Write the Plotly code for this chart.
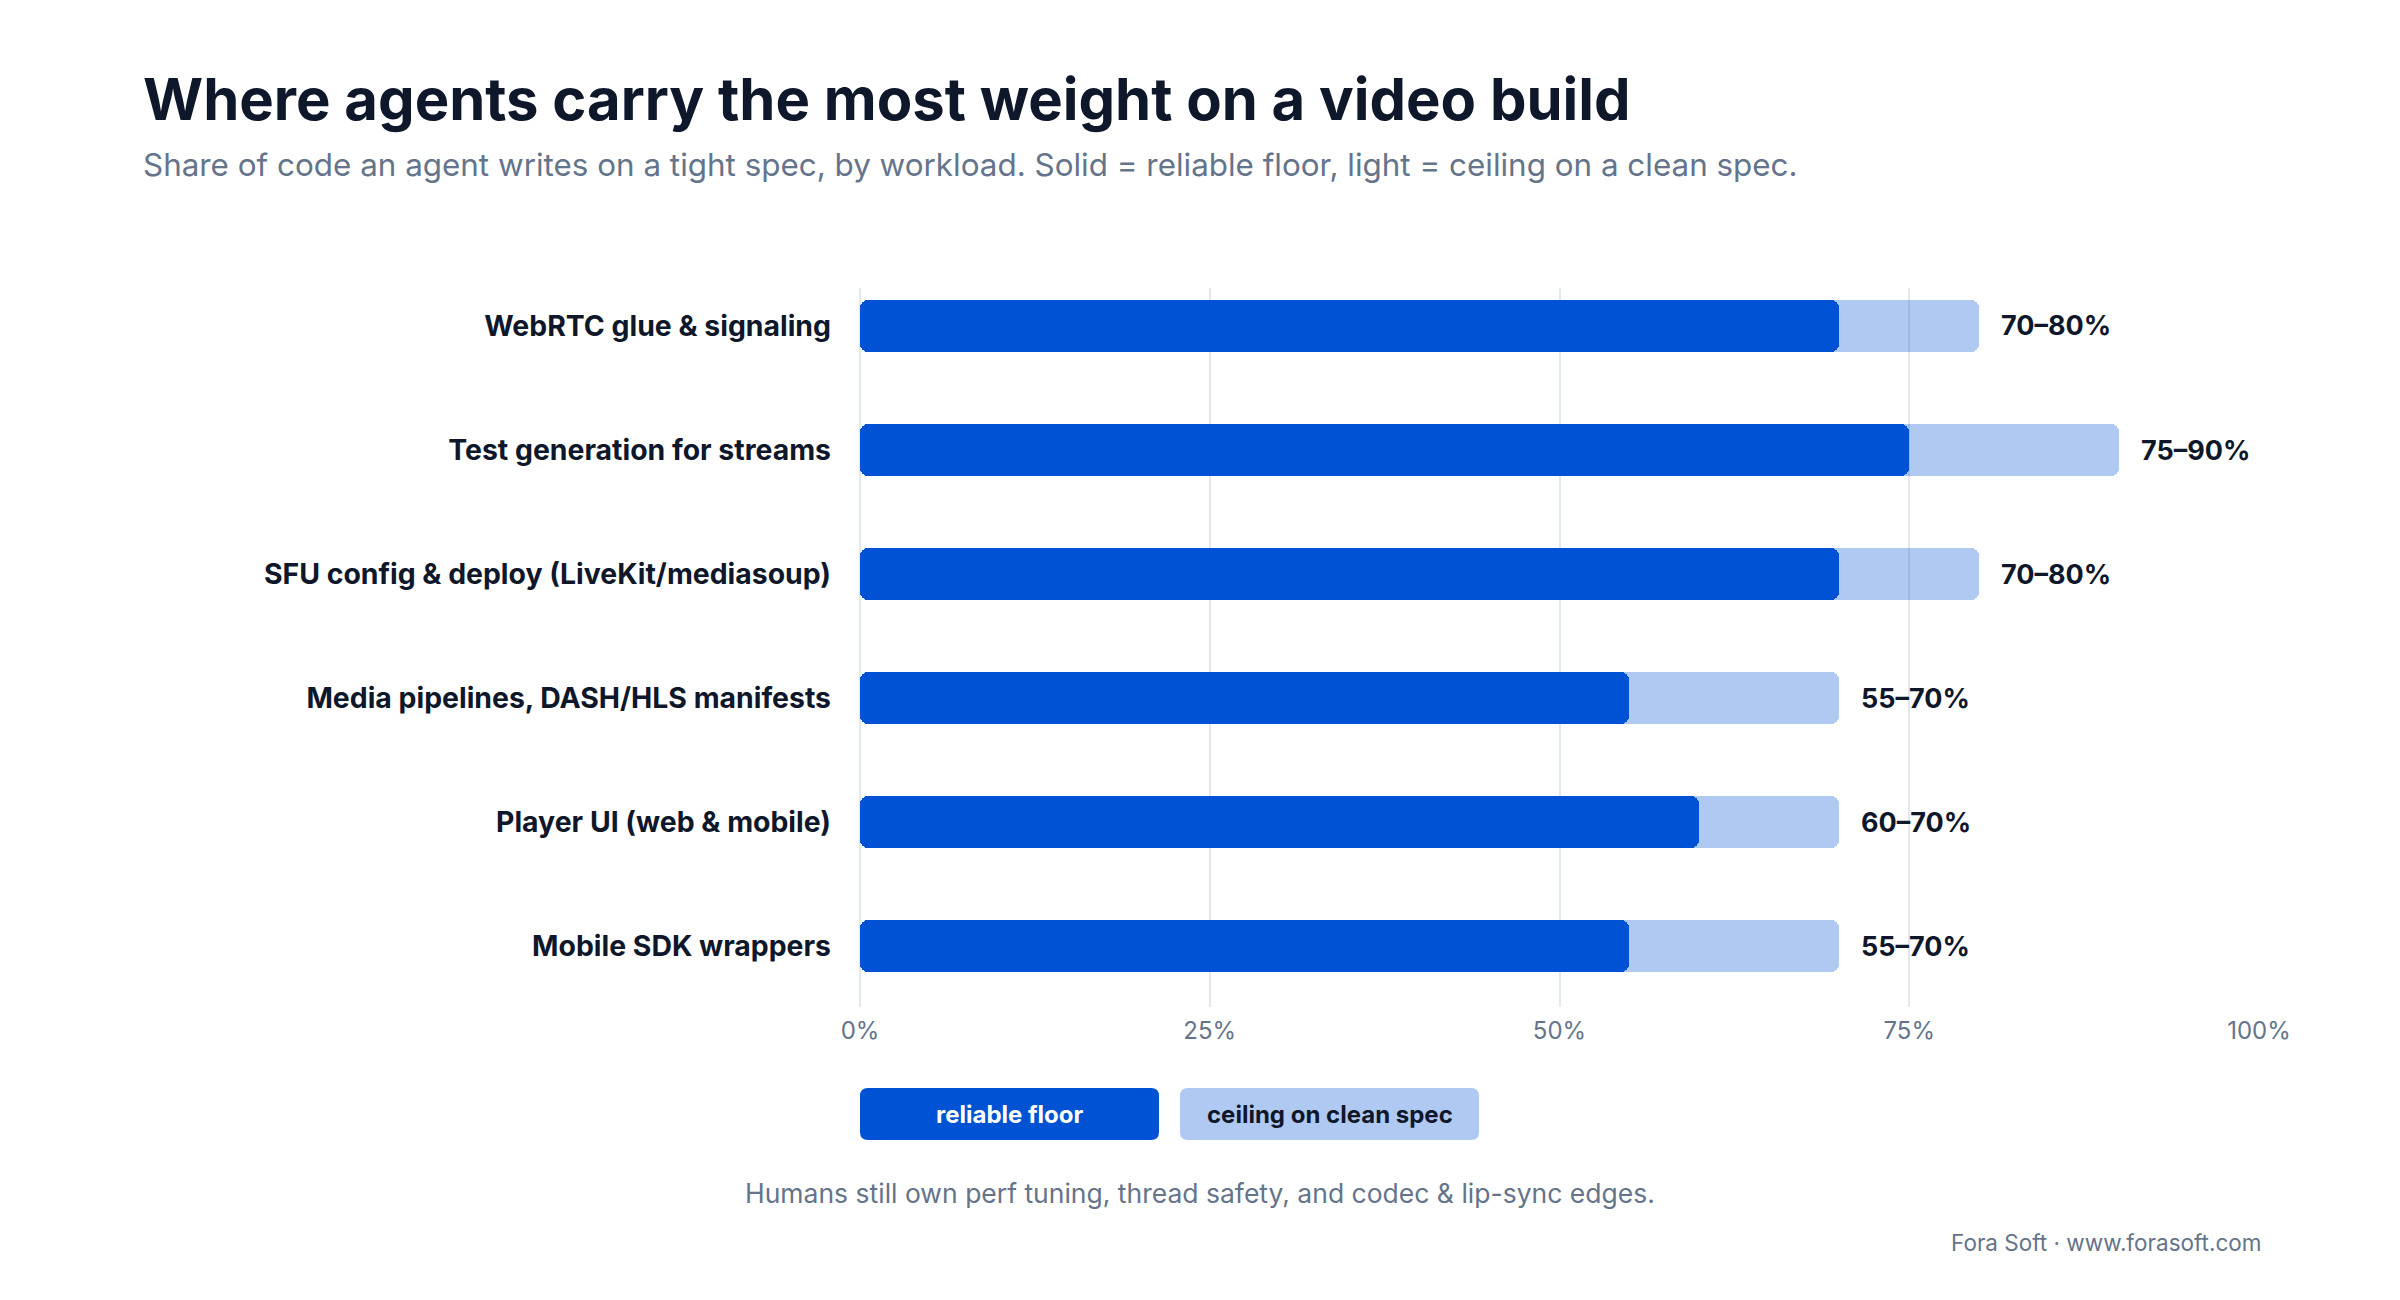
import plotly.graph_objects as go

# workloads, top to bottom
categories = [
    "WebRTC glue & signaling",
    "Test generation for streams",
    "SFU config & deploy (LiveKit/mediasoup)",
    "Media pipelines, DASH/HLS manifests",
    "Player UI (web & mobile)",
    "Mobile SDK wrappers",
]
floor_pct = [70, 75, 70, 55, 60, 55]      # reliable floor
ceiling_pct = [80, 90, 80, 70, 70, 70]    # ceiling on a clean spec
tick_vals = [0, 25, 50, 75, 100]
tick_text = ["0%", "25%", "50%", "75%", "100%"]

title = "Where agents carry the most weight on a video build"
subtitle = ("Share of code an agent writes on a tight spec, by workload. "
            "Solid = reliable floor, light = ceiling on a clean spec.")
caption = "Humans still own perf tuning, thread safety, and codec & lip-sync edges."
footer = "Fora Soft · www.forasoft.com"
legend_labels = ["reliable floor", "ceiling on clean spec"]

DARK = "#0052d4"
LIGHT = "rgba(0,82,212,0.31)"
INK = "#0f172a"
MUTED = "#64748b"
GRID = "#e2e8f0"
FONT = "Inter"

# page is 2400x1300; the html body has an 8px margin, so the figure is a bit smaller
OFF = 8
W, H = 2400 - 2 * OFF, 1300 - 2 * OFF
L, R, T, B = 860, 2259, 288, 1007   # plot area in page pixels


def px(xp):
    return (xp - L) / (R - L)


def py(yp):
    return (B - yp) / (B - T)


def bar(x, base, color):
    return go.Bar(y=categories, x=x, base=base, orientation="h", width=0.42,
                  marker=dict(color=color, cornerradius=8, line=dict(width=0)),
                  hoverinfo="skip", showlegend=False)


fig = go.Figure()

# each bar is split in two halves from its middle so both ends come out rounded
fig.add_trace(bar([-c / 2 for c in ceiling_pct], [c / 2 for c in ceiling_pct], LIGHT))
fig.add_trace(bar([c / 2 for c in ceiling_pct], [c / 2 for c in ceiling_pct], LIGHT))
fig.add_trace(bar([-(f / 2 + 2) for f in floor_pct], [f / 2 + 2 for f in floor_pct], DARK))
fig.add_trace(bar([f / 2 for f in floor_pct], [f / 2 for f in floor_pct], DARK))

# range labels after each bar
for cat, f, c in zip(categories, floor_pct, ceiling_pct):
    fig.add_annotation(
        x=c, y=cat, xref="x", yref="y", text=f"{f}–{c}%", showarrow=False,
        xanchor="left", yanchor="middle", xshift=20,
        font=dict(family=FONT, size=27, color=INK, weight=700),
    )

# title block
fig.add_annotation(x=px(141), y=py(99), xref="paper", yref="paper", text=title,
                   showarrow=False, xanchor="left", yanchor="middle",
                   font=dict(family=FONT, size=58, color=INK, weight=700))
fig.add_annotation(x=px(141), y=py(165), xref="paper", yref="paper", text=subtitle,
                   showarrow=False, xanchor="left", yanchor="middle",
                   font=dict(family=FONT, size=31.4, color=MUTED))

# legend pills
pill_w, pill_h, rad = 299, 52, 8
pill_path = (f"M {rad},{-pill_h/2} L {pill_w-rad},{-pill_h/2} Q {pill_w},{-pill_h/2} {pill_w},{-pill_h/2+rad} "
             f"L {pill_w},{pill_h/2-rad} Q {pill_w},{pill_h/2} {pill_w-rad},{pill_h/2} "
             f"L {rad},{pill_h/2} Q 0,{pill_h/2} 0,{pill_h/2-rad} "
             f"L 0,{-pill_h/2+rad} Q 0,{-pill_h/2} {rad},{-pill_h/2} Z")
for x0, fill, txt, tcol in [(860, DARK, legend_labels[0], "white"),
                            (1180, LIGHT, legend_labels[1], INK)]:
    fig.add_shape(type="path", path=pill_path, xref="paper", yref="paper",
                  xsizemode="pixel", ysizemode="pixel",
                  xanchor=px(x0), yanchor=py(1114),
                  fillcolor=fill, line=dict(width=0), layer="above")
    fig.add_annotation(x=px(x0 + pill_w / 2), y=py(1114), xref="paper", yref="paper",
                       text=txt, showarrow=False, xanchor="center", yanchor="middle",
                       font=dict(family=FONT, size=24, color=tcol, weight=700))

fig.add_annotation(x=px(1200), y=py(1193), xref="paper", yref="paper", text=caption,
                   showarrow=False, xanchor="center", yanchor="middle",
                   font=dict(family=FONT, size=26.5, color=MUTED))
fig.add_annotation(x=px(2263), y=py(1242), xref="paper", yref="paper", text=footer,
                   showarrow=False, xanchor="right", yanchor="middle",
                   font=dict(family=FONT, size=22.5, color=MUTED))

fig.update_layout(
    width=W, height=H,
    margin=dict(l=L - OFF, r=W - (R - OFF), t=T - OFF, b=H - (B - OFF), pad=0),
    paper_bgcolor="white", plot_bgcolor="white",
    barmode="overlay", bargap=0, bargroupgap=0, showlegend=False,
    font=dict(family=FONT, color=INK),
    xaxis=dict(range=[0, 100], tickvals=tick_vals, ticktext=tick_text,
               showgrid=True, gridcolor=GRID, gridwidth=2,
               zeroline=True, zerolinecolor=GRID, zerolinewidth=2,
               showline=False, ticks="", ticklabelstandoff=7,
               tickfont=dict(family=FONT, size=24, color=MUTED), fixedrange=True),
    yaxis=dict(type="category", categoryorder="array", categoryarray=categories,
               range=[5.49, -0.306], showgrid=False, zeroline=False, showline=False,
               ticks="", ticklabelstandoff=28,
               tickfont=dict(family=FONT, size=28.4, color=INK, weight=650), fixedrange=True),
)

fig.write_html("out.html")
